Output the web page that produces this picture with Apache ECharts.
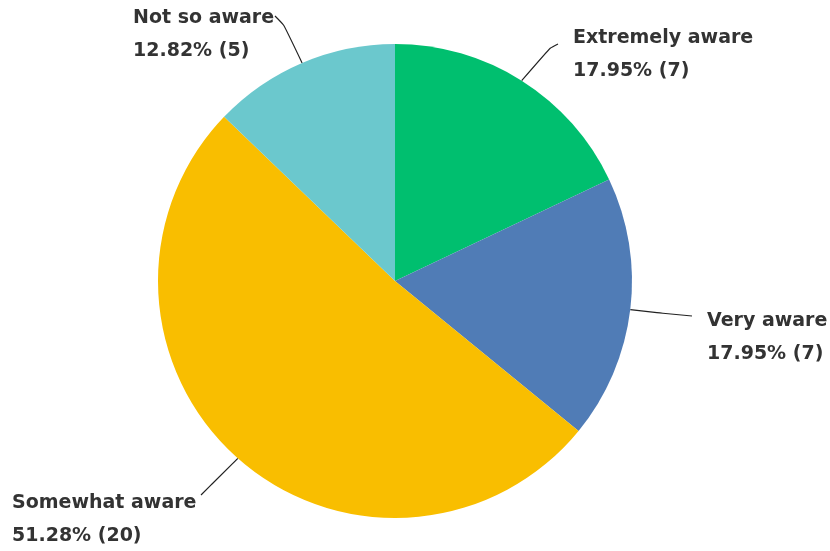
<!DOCTYPE html>
<html>
<head>
<meta charset="utf-8">
<script src="https://cdn.jsdelivr.net/npm/echarts@6/dist/echarts.min.js"></script>
<style>
  html, body { margin: 0; padding: 0; background: #ffffff; }
  #chart { width: 830px; height: 551px; }
</style>
</head>
<body>
<div id="chart"></div>
<script>
// Survey answers and response counts
const categories = ['Extremely aware', 'Very aware', 'Somewhat aware', 'Not so aware'];
const counts = [7, 7, 20, 5];
const colors = ['#00BF6F', '#507CB6', '#F9BE00', '#6BC8CD'];

// Where each label block sits (left edge, vertical middle of the two lines)
const labelSpots = [
  { x: 573, y: 55 },
  { x: 707, y: 338 },
  { x: 12, y: 520 },
  { x: 133, y: 35 }
];
// Leader line bend and end, relative to the label spot
const leaderBends = [[-23, -7], [-47, -25], [200, -36], [151, -10]];
const leaderEnds = [[-15, -11], [-15, -22], [189, -25], [142, -19]];

const total = counts.reduce((a, b) => a + b, 0);

const chart = echarts.init(document.getElementById('chart'));
chart.setOption({
  animation: false,
  series: [{
    type: 'pie',
    center: [395, 281],
    radius: 237,
    startAngle: 90,
    clockwise: true,
    data: categories.map((name, i) => ({
      name,
      value: counts[i],
      itemStyle: { color: colors[i] }
    })),
    itemStyle: { borderWidth: 0 },
    label: {
      show: true,
      position: 'outside',
      overflow: 'none',
      formatter: p => p.name + '\n' + (p.value / total * 100).toFixed(2) + '% (' + p.value + ')',
      fontFamily: '"DejaVu Sans", sans-serif',
      fontWeight: 'bold',
      fontSize: 19,
      lineHeight: 33,
      color: '#333333',
      align: 'left'
    },
    labelLine: {
      show: true,
      smooth: 0.2,
      lineStyle: { color: '#222222', width: 1.2 }
    },
    labelLayout: params => {
      const i = params.dataIndex;
      const s = labelSpots[i];
      const start = params.labelLinePoints ? params.labelLinePoints[0] : null;
      const out = { x: s.x, y: s.y, align: 'left', verticalAlign: 'middle' };
      if (start) {
        out.labelLinePoints = [
          start,
          [s.x + leaderBends[i][0], s.y + leaderBends[i][1]],
          [s.x + leaderEnds[i][0], s.y + leaderEnds[i][1]]
        ];
      }
      return out;
    }
  }]
});
</script>
</body>
</html>
